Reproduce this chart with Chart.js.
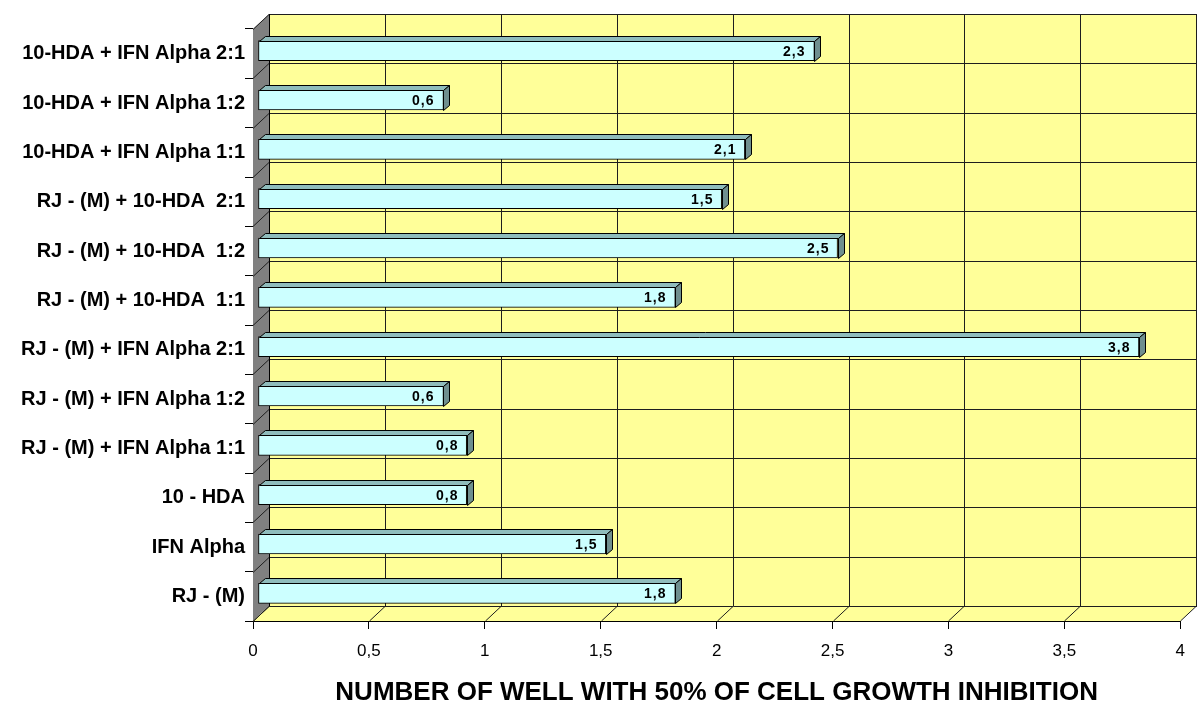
<!DOCTYPE html>
<html>
<head>
<meta charset="utf-8">
<script src="https://cdn.jsdelivr.net/npm/chart.js@4.4.1/dist/chart.umd.min.js"></script>
<style>
  html, body { margin: 0; padding: 0; background: #fff; }
  #wrap { width: 1197px; height: 707px; position: relative; }
</style>
</head>
<body>
<div id="wrap"><canvas id="myChart"></canvas></div>
<script>
const categories = [
  '10-HDA + IFN Alpha 2:1',
  '10-HDA + IFN Alpha 1:2',
  '10-HDA + IFN Alpha 1:1',
  'RJ - (M) + 10-HDA  2:1',
  'RJ - (M) + 10-HDA  1:2',
  'RJ - (M) + 10-HDA  1:1',
  'RJ - (M) + IFN Alpha 2:1',
  'RJ - (M) + IFN Alpha 1:2',
  'RJ - (M) + IFN Alpha 1:1',
  '10 - HDA',
  'IFN Alpha',
  'RJ - (M)'
];
// bar lengths as drawn in the picture
const barValues = [2.4, 0.8, 2.1, 2.0, 2.5, 1.8, 3.8, 0.8, 0.9, 0.9, 1.5, 1.8];
// value texts printed on the bars
const valueLabels = ['2,3', '0,6', '2,1', '1,5', '2,5', '1,8', '3,8', '0,6', '0,8', '0,8', '1,5', '1,8'];
const xTicks = [0, 0.5, 1, 1.5, 2, 2.5, 3, 3.5, 4];
const xTitle = 'NUMBER OF WELL WITH 50% OF CELL GROWTH INHIBITION';

const FONT = '"Liberation Sans", Arial, sans-serif';
const DX = 16, DY = -15;      // wall depth
const BDX = 6, BDY = -5;      // bar depth
const SHIFT_X = 5, SHIFT_Y = -3;

// 3D walls, floor and gridlines
const walls = {
  id: 'walls',
  beforeDatasetsDraw(chart) {
    const { ctx, chartArea: { left, right, top, bottom } } = chart;
    const xs = chart.scales.x, ys = chart.scales.y;
    ctx.save();
    ctx.lineWidth = 1;
    ctx.strokeStyle = '#000';

    // left wall
    ctx.fillStyle = '#808080';
    ctx.beginPath();
    ctx.moveTo(left, top); ctx.lineTo(left + DX, top + DY);
    ctx.lineTo(left + DX, bottom + DY); ctx.lineTo(left, bottom);
    ctx.closePath(); ctx.fill();

    // back wall
    ctx.fillStyle = '#FFFF99';
    ctx.fillRect(left + DX, top + DY, right - left, bottom - top);

    // floor
    ctx.beginPath();
    ctx.moveTo(left, bottom); ctx.lineTo(left + DX, bottom + DY);
    ctx.lineTo(right + DX, bottom + DY); ctx.lineTo(right, bottom);
    ctx.closePath(); ctx.fill();

    ctx.strokeStyle = '#1e1e1e';
    // vertical gridlines
    xTicks.forEach((v) => {
      const px = Math.round(xs.getPixelForValue(v)) + 0.5;
      ctx.beginPath();
      ctx.moveTo(px, bottom); ctx.lineTo(px + DX, bottom + DY);
      ctx.lineTo(px + DX, top + DY);
      ctx.stroke();
    });

    // horizontal gridlines at category boundaries
    const n = categories.length;
    for (let i = 0; i <= n; i++) {
      let b;
      if (i === 0) b = top;
      else if (i === n) b = bottom;
      else b = (ys.getPixelForValue(i - 1) + ys.getPixelForValue(i)) / 2;
      b = Math.round(b) + 0.5;
      ctx.beginPath();
      ctx.moveTo(left, b); ctx.lineTo(left + DX, b + DY);
      ctx.lineTo(right + DX + 20, b + DY);
      ctx.stroke();
    }

    // wall edge
    ctx.strokeStyle = '#000';
    ctx.beginPath();
    ctx.moveTo(left + DX + 0.5, top + DY); ctx.lineTo(left + DX + 0.5, bottom + DY);
    ctx.stroke();
    ctx.restore();

    // shift the bars a little into the depth
    ctx.save();
    ctx.translate(SHIFT_X, SHIFT_Y);
  },
  afterDatasetsDraw(chart) {
    const { ctx } = chart;
    const meta = chart.getDatasetMeta(0);
    ctx.lineWidth = 1;
    ctx.strokeStyle = '#000';
    meta.data.forEach((bar, i) => {
      const { x, y, base, height } = bar.getProps(['x', 'y', 'base', 'height'], true);
      const t = Math.round(y - height / 2) + 0.5;
      const b = Math.round(y + height / 2) + 0.5;
      const l = Math.round(base) + 0.5;
      const r = Math.round(x) + 0.5;
      // top face
      ctx.fillStyle = '#8FBCBC';
      ctx.beginPath();
      ctx.moveTo(l, t); ctx.lineTo(l + BDX, t + BDY);
      ctx.lineTo(r + BDX, t + BDY); ctx.lineTo(r, t);
      ctx.closePath(); ctx.fill(); ctx.stroke();
      // side face
      ctx.fillStyle = '#6F8F8F';
      ctx.beginPath();
      ctx.moveTo(r, t); ctx.lineTo(r + BDX, t + BDY);
      ctx.lineTo(r + BDX, b + BDY); ctx.lineTo(r, b);
      ctx.closePath(); ctx.fill(); ctx.stroke();
      // value text
      ctx.fillStyle = '#000';
      ctx.font = 'bold 14px ' + FONT;
      ctx.letterSpacing = '1px';
      ctx.textAlign = 'right';
      ctx.textBaseline = 'middle';
      ctx.fillText(valueLabels[i], r - 9, y + 1);
      ctx.letterSpacing = '0px';
    });
    ctx.restore();
  }
};

new Chart(document.getElementById('myChart'), {
  type: 'bar',
  data: {
    labels: categories,
    datasets: [{
      data: barValues,
      backgroundColor: '#CCFFFF',
      borderColor: '#000',
      borderWidth: 1,
      borderSkipped: false,
      barThickness: 20
    }]
  },
  options: {
    indexAxis: 'y',
    responsive: true,
    maintainAspectRatio: false,
    animation: false,
    layout: { padding: { top: 29, right: 7, left: 0, bottom: 0 } },
    plugins: { legend: { display: false }, tooltip: { enabled: false } },
    scales: {
      x: {
        min: 0,
        max: 4,
        afterFit: (scale) => { scale.height = 86; },
        afterBuildTicks: (scale) => { scale.ticks = xTicks.map((v) => ({ value: v })); },
        ticks: {
          color: '#000',
          font: { family: FONT, size: 17 },
          padding: 12,
          maxRotation: 0,
          callback: (v) => String(v).replace('.', ',')
        },
        grid: { drawOnChartArea: false, drawTicks: true, tickLength: 8, color: '#000' },
        border: { color: '#000', width: 1 },
        title: {
          display: true,
          text: xTitle,
          color: '#000',
          font: { family: FONT, size: 26, weight: 'bold', lineHeight: 1.1 },
          padding: { top: 0, bottom: 0 }
        }
      },
      y: {
        afterFit: (scale) => { scale.width = 253; },
        ticks: {
          color: '#000',
          font: { family: FONT, size: 20, weight: 'bold' },
          padding: 0
        },
        grid: { drawOnChartArea: false, drawTicks: true, tickLength: 8, color: '#000', offset: true },
        border: { color: '#000', width: 1 }
      }
    }
  },
  plugins: [walls]
});
</script>
</body>
</html>
